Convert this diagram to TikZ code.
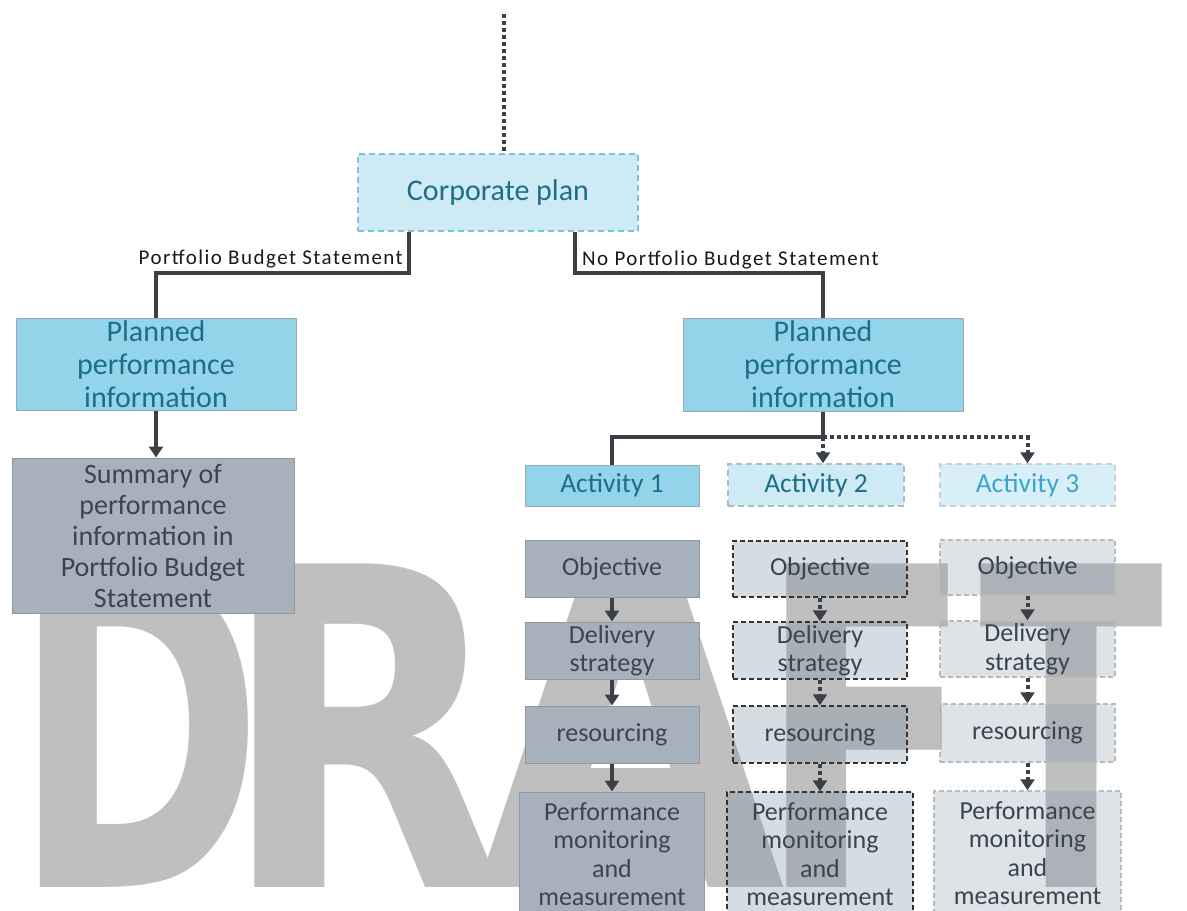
\documentclass[tikz,border=0pt]{standalone}
\usepackage{fontspec}
\setmainfont{Carlito}
\newfontfamily\lblfont{Carlito}[LetterSpace=7]
\newfontfamily\draftfont{DejaVu Sans}[UprightFont=* Bold]
\usetikzlibrary{arrows.meta}

\definecolor{linedark}{HTML}{3B4047}
\definecolor{skyfill}{HTML}{93D4EA}
\definecolor{skyline}{HTML}{9AAAB5}
\definecolor{palefill}{HTML}{CDEAF5}
\definecolor{paleline}{HTML}{7FC3DA}
\definecolor{tealtext}{HTML}{1D6E87}
\definecolor{lighttext}{HTML}{3AA6C8}
\definecolor{slatefill}{HTML}{A6B1BC}
\definecolor{slateline}{HTML}{8E99A3}
\definecolor{slatetext}{HTML}{3A4550}
\definecolor{ghostfill}{HTML}{778EA1}
\definecolor{draftgray}{HTML}{BFBFBF}

\newcommand{\wide}[2]{\scalebox{#1}[1]{#2}}

\tikzset{
  box/.style={rectangle, inner sep=0pt, align=center},
  skybox/.style={box, fill=skyfill, draw=skyline, line width=1pt, text=tealtext},
  planbox/.style={box, fill=palefill, draw=paleline, line width=1.5pt, dash pattern=on 6pt off 4pt, text=tealtext},
  slatebox/.style={box, fill=slatefill, draw=slateline, line width=1pt, text=slatetext},
  ghostbox/.style={box, fill=ghostfill, fill opacity=0.31, text opacity=1, draw=black!80, line width=1.5pt, dash pattern=on 5pt off 3pt, text=slatetext},
  faintbox/.style={box, fill=ghostfill, fill opacity=0.25, text opacity=1, draw=gray!55, line width=1.5pt, dash pattern=on 5pt off 3pt, text=slatetext},
  conn/.style={draw=linedark, line width=4pt},
  arr/.style={conn, -{Triangle[width=14pt,length=11pt]}},
  dotline/.style={conn, dash pattern=on 4pt off 3pt},
  dotarr/.style={dotline, -{Triangle[width=14pt,length=11pt]}},
  lbl/.style={inner sep=0pt, text=black!90, font=\lblfont\fontsize{21}{24}\selectfont},
  big/.style={font=\fontsize{30}{33}\selectfont},
  mid/.style={font=\fontsize{28}{31}\selectfont},
  small/.style={font=\fontsize{26}{28.5}\selectfont},
  actfont/.style={font=\fontsize{27.5}{30}\selectfont},
  draftmark/.style={inner sep=0pt, outer sep=0pt, text=draftgray, font=\draftfont\fontsize{444}{444}\selectfont}
}

\begin{document}
\begin{tikzpicture}[x=1pt,y=-1pt]
  \clip (0,0) rectangle (1187,911);
  % watermark
  \node[draftmark, anchor=base west] (draft) at (12.4,887)
    {\wide{0.683}{D}\kern-44pt\wide{0.84}{R}\kern-30.5pt\wide{0.9}{A}\kern-29pt\wide{0.717}{F}\kern5pt\wide{0.608}{T}};

  % top of the tree
  \node[planbox, big, minimum width=280pt, minimum height=77pt] (corp) at (498,192.5) {Corporate plan};
  \coordinate (top) at (504,14);
  \draw[dotline] (top) -- (top |- corp.north);

  % left branch
  \node[skybox, big, minimum width=280pt, minimum height=92pt] (ppiL) at (156,364) {Planned\\performance\\information};
  \node[slatebox, mid, minimum width=282pt, minimum height=155pt] (summ) at (153,535.5) {Summary of\\performance\\information in\\Portfolio Budget\\Statement};
  \coordinate (jL) at (409,273);
  \draw[conn] (jL |- corp.south) -- (jL) -| (ppiL.north);
  \node[lbl, anchor=east] (lblL) at (403,259) {Portfolio Budget Statement};
  \draw[arr] (ppiL.south) -- (ppiL.south |- summ.north);

  % right branch
  \node[skybox, big, minimum width=280pt, minimum height=93pt] (ppiR) at (823,364.5) {Planned\\performance\\information};
  \coordinate (jR) at (575,273);
  \draw[conn] (jR |- corp.south) -- (jR) -| (ppiR.north);
  \node[lbl, anchor=west] (lblR) at (582,260) {No Portfolio Budget Statement};

  % activities
  \node[skybox, actfont, minimum width=174pt, minimum height=41pt] (act1) at (612,485.5) {Activity 1};
  \node[planbox, actfont, draw=skyline!80, minimum width=176pt, minimum height=42pt] (act2) at (816,485) {Activity 2};
  \node[planbox, actfont, fill=palefill!75, draw=skyline!55, text=lighttext, minimum width=175pt, minimum height=42pt] (act3) at (1027.5,485) {Activity 3};
  \coordinate (jA) at (823,437);
  \draw[conn] (ppiR.south) -- (jA) -| (act1.north);
  \draw[dotarr] (jA) -- (jA |- act2.north);
  \draw[dotarr] (jA) -| (act3.north);

  % activity 1 chain
  \node[slatebox, small, minimum width=174pt, minimum height=57pt] (obj1) at (612,568.5) {Objective};
  \node[slatebox, small, minimum width=174pt, minimum height=57pt] (del1) at (612,650.5) {Delivery\\strategy};
  \node[slatebox, small, minimum width=174pt, minimum height=57pt] (res1) at (612,734.5) {resourcing};
  \node[slatebox, small, minimum width=185pt, minimum height=124pt] (perf1) at (612,854) {Performance\\monitoring\\and\\measurement};

  % activity 2 chain
  \node[ghostbox, small, minimum width=174pt, minimum height=56pt] (obj2) at (820,569) {Objective};
  \node[ghostbox, small, minimum width=174pt, minimum height=57pt] (del2) at (820,650.5) {Delivery\\strategy};
  \node[ghostbox, small, minimum width=174pt, minimum height=57pt] (res2) at (820,734.5) {resourcing};
  \node[ghostbox, small, minimum width=186pt, minimum height=124pt] (perf2) at (820,854) {Performance\\monitoring\\and\\measurement};

  % activity 3 chain
  \node[faintbox, small, minimum width=175pt, minimum height=55pt] (obj3) at (1027.5,567.5) {Objective};
  \node[faintbox, small, minimum width=175pt, minimum height=56pt] (del3) at (1027.5,649) {Delivery\\strategy};
  \node[faintbox, small, minimum width=175pt, minimum height=58pt] (res3) at (1027.5,733) {resourcing};
  \node[faintbox, small, minimum width=187pt, minimum height=124pt] (perf3) at (1027.5,853) {Performance\\monitoring\\and\\measurement};

  \foreach \c/\s in {1/arr,2/dotarr,3/dotarr} {
    \draw[\s] (obj\c) -- (del\c);
    \draw[\s] (del\c) -- (res\c);
    \draw[\s] (res\c) -- (perf\c);
  }
\end{tikzpicture}
\end{document}
